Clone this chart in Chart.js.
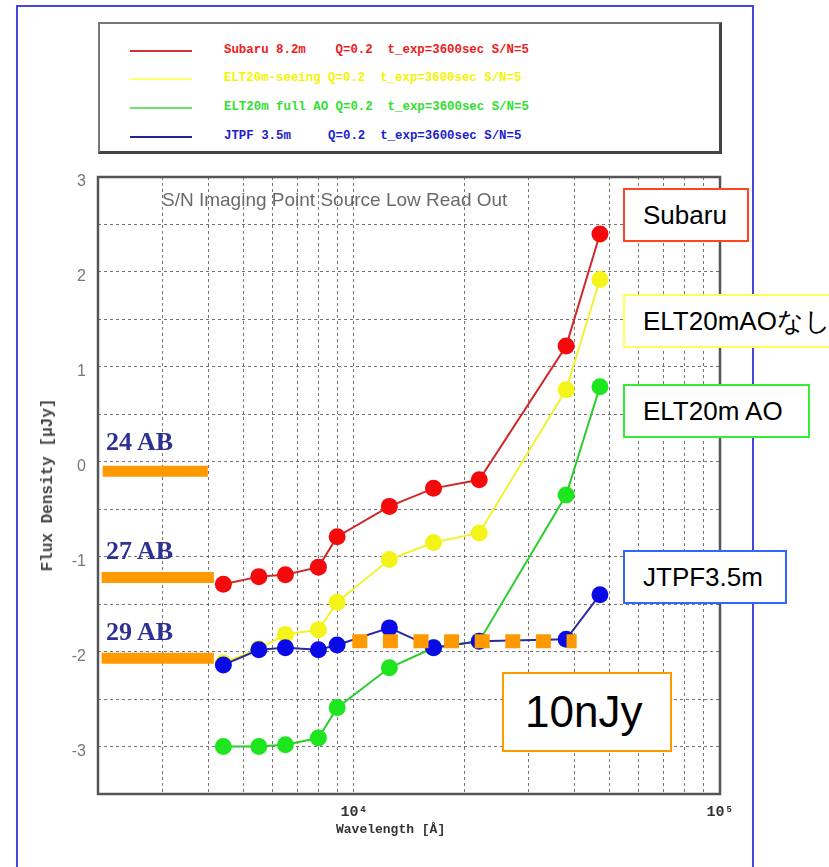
<!DOCTYPE html>
<html>
<head>
<meta charset="utf-8">
<script src="https://cdn.jsdelivr.net/npm/chart.js@4.4.1/dist/chart.umd.min.js"></script>
<style>
  body { margin: 0; background: #fff; width: 829px; height: 867px; overflow: hidden; position: relative; font-family: "Liberation Sans", Arial, sans-serif; }
  #wrap { position: absolute; left: 0; top: 0; width: 829px; height: 867px; }
  .frame { position: absolute; left: 16px; top: 5px; width: 734px; height: 900px; border: 2px solid #4646dc; }
  .legend { position: absolute; left: 98px; top: 22px; width: 619px; height: 127px; border: 2px solid #777; border-right: 3px solid #444; border-bottom: 3px solid #444; background: #fff; }
  .leg-row { position: absolute; left: 0; height: 16px; }
  .leg-line { position: absolute; left: 30px; width: 62px; height: 2px; }
  .leg-text { position: absolute; left: 124px; top: -8px; font-family: "Liberation Mono", monospace; font-weight: bold; font-size: 12.4px; white-space: pre; line-height: 16px; }
  .inner-title { position: absolute; left: 162px; top: 189px; font-size: 19px; color: #6a6a6a; white-space: nowrap; }
  .ytitle { position: absolute; left: 48px; top: 485px; transform: translate(-50%, -50%) rotate(-90deg); font-family: "Liberation Mono", monospace; font-weight: bold; font-size: 16px; color: #444; white-space: nowrap; }
  .xtitle { position: absolute; left: 336px; top: 822px; font-family: "Liberation Mono", monospace; font-weight: bold; font-size: 13px; color: #333; white-space: nowrap; }
  .box { position: absolute; background: #fff; border: 2px solid; box-sizing: border-box; font-size: 26px; color: #000; white-space: nowrap; line-height: 50px; padding-left: 18px; }
  .ab { position: absolute; font-family: "Liberation Serif", "Times New Roman", serif; font-weight: bold; font-size: 26px; color: #2e3192; white-space: nowrap; }
</style>
</head>
<body>
<div id="wrap"><canvas id="chart" width="829" height="867"></canvas></div>
<div class="frame"></div>
<div class="legend" id="legend"></div>
<div class="inner-title">S/N Imaging Point Source Low Read Out</div>
<div class="ytitle">Flux Density [μJy]</div>
<div class="xtitle">Wavelength [Å]</div>
<div id="notes"></div>
<script>
// bands B V R I z J H K L' M
const wavelengths = [4400, 5500, 6500, 8000, 9000, 12500, 16500, 22000, 38000, 47000];
const subaru    = [-1.29, -1.21, -1.19, -1.11, -0.79, -0.47, -0.28, -0.19, 1.22, 2.40];
const eltSeeing = [-2.12, -1.97, -1.82, -1.77, -1.48, -1.03, -0.85, -0.75, 0.76, 1.92];
const eltAO     = [-3.00, -3.00, -2.98, -2.91, -2.59, -2.17, -1.96, -1.89, -0.35, 0.79];
const jtpf      = [-2.14, -1.98, -1.96, -1.98, -1.93, -1.75, -1.96, -1.89, -1.87, -1.40];

// 10nJy limit (dashed orange)
const nJyLevel = -1.89;
const nJyFrom = 9900;
const nJyTo = 40600;

// AB magnitude markers
const abLabels = ['24 AB', '27 AB', '29 AB'];
const abLevels = [-0.10, -1.22, -2.07];
const abFrom = [2060, 2046, 2046];
const abTo = [3990, 4145, 4145];

// axes
const xTicks = [2000, 3000, 4000, 5000, 6000, 7000, 8000, 9000, 10000,
                20000, 30000, 40000, 50000, 60000, 70000, 80000, 90000, 100000];
const xTickLabels = { 10000: '10⁴', 100000: '10⁵' };

// legend text
const legendNames = [
  'Subaru 8.2m    Q=0.2  t_exp=3600sec S/N=5',
  'ELT20m-seeing Q=0.2  t_exp=3600sec S/N=5',
  'ELT20m full AO Q=0.2  t_exp=3600sec S/N=5',
  'JTPF 3.5m     Q=0.2  t_exp=3600sec S/N=5'
];
const legendLineColors = ['#d83030', '#ffff70', '#70e070', '#22229a'];
const legendTextColors = ['#ee2020', '#f4f400', '#30e030', '#2020d0'];

// callout boxes
const calloutText = ['Subaru', 'ELT20mAOなし', 'ELT20m AO', 'JTPF3.5m'];
const calloutColors = ['#ff4422', '#ffff55', '#33ee33', '#3366ff'];

// legend rows
const legendEl = document.getElementById('legend');
const rowTops = [26, 54, 83, 112];
legendNames.forEach(function (name, i) {
  const row = document.createElement('div');
  row.className = 'leg-row';
  row.style.top = rowTops[i] + 'px';
  row.innerHTML = '<div class="leg-line" style="background:' + legendLineColors[i] + '"></div>' +
    '<div class="leg-text" style="color:' + legendTextColors[i] + '">' + name + '</div>';
  legendEl.appendChild(row);
});

// callouts and AB labels
const notes = document.getElementById('notes');
const boxPos = [[623, 188, 126, 54], [623, 294, 230, 54], [623, 384, 187, 54], [623, 550, 164, 54]];
calloutText.forEach(function (t, i) {
  const d = document.createElement('div');
  d.className = 'box';
  d.style.left = boxPos[i][0] + 'px';
  d.style.top = boxPos[i][1] + 'px';
  d.style.width = boxPos[i][2] + 'px';
  d.style.height = boxPos[i][3] + 'px';
  d.style.borderColor = calloutColors[i];
  d.textContent = t;
  notes.appendChild(d);
});
const nJyBox = document.createElement('div');
nJyBox.className = 'box';
nJyBox.style.cssText = 'left:502px;top:672px;width:170px;height:80px;border-color:#ff9900;font-size:44px;line-height:76px;padding-left:21px;';
nJyBox.textContent = '10nJy';
notes.appendChild(nJyBox);
const abTops = [427, 536, 617];
abLabels.forEach(function (t, i) {
  const d = document.createElement('div');
  d.className = 'ab';
  d.style.left = '106px';
  d.style.top = abTops[i] + 'px';
  d.textContent = t;
  notes.appendChild(d);
});

function pairs(ys) {
  return wavelengths.map(function (x, i) { return { x: x, y: ys[i] }; });
}

function series(data, line, point) {
  return {
    data: pairs(data),
    borderColor: line,
    borderWidth: 2,
    pointRadius: 8.5,
    pointBackgroundColor: point,
    pointBorderWidth: 0,
    tension: 0
  };
}

const datasets = [];
// AB bars (on top)
abLevels.forEach(function (lv, i) {
  datasets.push({
    data: [{ x: abFrom[i], y: lv }, { x: abTo[i], y: lv }],
    borderColor: '#ff9900',
    borderWidth: 11,
    borderCapStyle: 'butt',
    pointRadius: 0
  });
});
datasets.push({
  data: [{ x: nJyFrom, y: nJyLevel }, { x: nJyTo, y: nJyLevel }],
  borderColor: '#ff9900',
  borderWidth: 14,
  borderDash: [15, 15.6],
  borderCapStyle: 'butt',
  pointRadius: 0
});
datasets.push(series(jtpf, '#2a2aa0', '#0a0ae6'));
datasets.push(series(subaru, '#d02828', '#f40a0a'));
datasets.push(series(eltAO, '#2ccc2c', '#1ee61e'));
datasets.push(series(eltSeeing, '#f2f230', '#f4f41a'));

const frame = {
  id: 'frame',
  afterDatasetsDraw: function (chart) {
    const a = chart.chartArea;
    const c = chart.ctx;
    c.save();
    c.strokeStyle = '#555';
    c.lineWidth = 2.5;
    c.strokeRect(a.left, a.top, a.right - a.left, a.bottom - a.top);
    c.restore();
  }
};

new Chart(document.getElementById('chart'), {
  type: 'line',
  data: { datasets: datasets },
  options: {
    responsive: false,
    devicePixelRatio: 1,
    animation: false,
    layout: { padding: { left: 0, top: 177, right: 109, bottom: 0 } },
    plugins: { legend: { display: false }, tooltip: { enabled: false } },
    scales: {
      x: {
        type: 'logarithmic',
        min: 2000,
        max: 100000,
        afterFit: function (s) { s.height = 73; },
        afterBuildTicks: function (s) { s.ticks = xTicks.map(function (v) { return { value: v }; }); },
        grid: { color: 'rgba(70,70,70,0.75)', drawTicks: false },
        border: { display: false, dash: [3, 3] },
        ticks: {
          autoSkip: false,
          maxRotation: 0,
          padding: 9,
          color: '#333',
          font: { family: 'Liberation Mono', size: 15, weight: 'bold' },
          callback: function (v) { return xTickLabels[v] || ''; }
        }
      },
      y: {
        min: -3.5,
        max: 3,
        afterFit: function (s) { s.width = 98; },
        grid: { color: 'rgba(70,70,70,0.75)', drawTicks: false },
        border: { display: false, dash: [3, 3] },
        ticks: {
          stepSize: 0.5,
          padding: 12,
          labelOffset: 5,
          color: '#777',
          font: { family: 'Liberation Sans', size: 16 },
          callback: function (v) { return Number.isInteger(v) ? String(v) : ''; }
        }
      }
    }
  },
  plugins: [frame]
});
</script>
</body>
</html>
